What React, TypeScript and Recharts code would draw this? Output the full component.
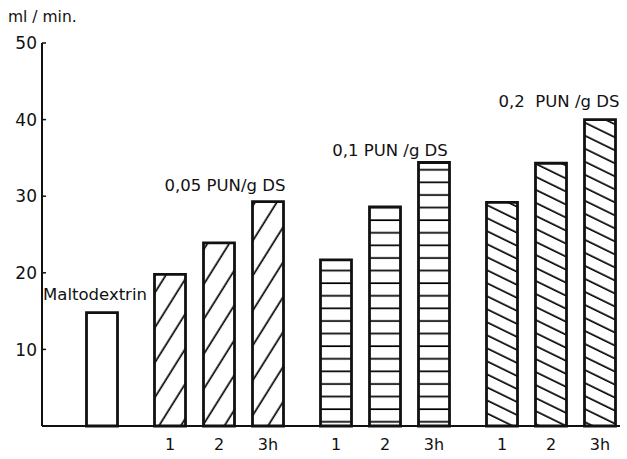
import React from "react";
import {
  BarChart, Bar, XAxis, YAxis, Cell, ReferenceDot, Customized,
} from "recharts";

// values (ml/min)
const groups = ["Maltodextrin", "0,05 PUN/g DS", "0,1 PUN /g DS", "0,2  PUN /g DS"];
const times = ["1", "2", "3h"];
const maltodextrin = 14.8;
const pun005 = [19.8, 23.9, 29.3];
const pun01 = [21.7, 28.6, 34.4];
const pun02 = [29.2, 34.3, 40.0];
const yTicks = [10, 20, 30, 40, 50];

// label anchor heights (in ml/min) for the group captions
const labelLevels = [17.2, 31.4, 36.0, 42.4];

const INK = "#111";
const FONT = "'DejaVu Sans', sans-serif";

// layout along the x axis (px units from y axis)
const MALTO_X = 60;
const FIRST = 128;
const STEP = 49;
const GROUP = 166;
const labelX = [53, 183, 348, 517];

const fills = ["#fff", "url(#hatchUp)", "url(#hatchH)", "url(#hatchDown)"];

const rows = [
  { x: MALTO_X, value: maltodextrin, g: 0, tick: "" },
  ...[pun005, pun01, pun02].flatMap((vals, gi) =>
    vals.map((v, i) => ({ x: FIRST + gi * GROUP + i * STEP, value: v, g: gi + 1, tick: times[i] }))
  ),
];

const tickText: Record<number, string> = {};
rows.forEach((r) => { if (r.tick) tickText[r.x] = r.tick; });

function YTick(props: any) {
  const { x, y, payload } = props;
  return (
    <g>
      <line x1={x + 5} x2={x + 9} y1={y} y2={y} stroke={INK} strokeWidth={1.5} />
      <text x={x} y={y} dy="0.36em" textAnchor="end" fontSize={17} fontFamily={FONT} fill={INK}>
        {payload.value}
      </text>
    </g>
  );
}

function GroupLabel(text: string) {
  return (props: any) => {
    const { viewBox } = props;
    return (
      <text x={viewBox.cx ?? viewBox.x} y={viewBox.cy ?? viewBox.y} dy="0.35em" textAnchor="middle"
        fontSize={16.5} fontFamily={FONT} fill={INK} style={{ whiteSpace: "pre" }}>
        {text}
      </text>
    );
  };
}

export default function App() {
  return (
    <div style={{ position: "absolute", left: 0, top: 0, background: "#fff" }}>
      <BarChart width={627} height={459} data={rows} margin={{ top: 43, right: 7, bottom: 3, left: 0 }}>
        <defs>
          <pattern id="hatchUp" patternUnits="userSpaceOnUse" width={20} height={18.5} patternTransform="rotate(-58)">
            <line x1={0} x2={20} y1={9} y2={9} stroke="#000" strokeWidth={1.7} />
          </pattern>
          <pattern id="hatchH" patternUnits="userSpaceOnUse" width={20} height={12.6}>
            <line x1={0} x2={20} y1={6} y2={6} stroke="#000" strokeWidth={1.7} />
          </pattern>
          <pattern id="hatchDown" patternUnits="userSpaceOnUse" width={20} height={11.7} patternTransform="rotate(26)">
            <line x1={0} x2={20} y1={6} y2={6} stroke="#000" strokeWidth={1.7} />
          </pattern>
        </defs>
        <XAxis type="number" dataKey="x" domain={[0, 578]} ticks={rows.filter((r) => r.tick).map((r) => r.x)}
          tickFormatter={(v) => tickText[v] ?? ""} tickLine={false} tickSize={0} tickMargin={13} height={30}
          axisLine={{ stroke: INK, strokeWidth: 2 }}
          tick={{ fontSize: 16, fontFamily: FONT, fill: INK }} allowDataOverflow />
        <YAxis type="number" domain={[0, 50]} ticks={yTicks} width={42} tickLine={false} tickSize={0}
          tickMargin={5} axisLine={{ stroke: INK, strokeWidth: 2 }} tick={<YTick />} />
        <Bar dataKey="value" barSize={31} stroke={INK} strokeWidth={2.8} isAnimationActive={false}>
          {rows.map((r) => (
            <Cell key={r.x} fill={fills[r.g]} />
          ))}
        </Bar>
        {groups.map((name, i) => (
          <ReferenceDot key={name} x={labelX[i]} y={labelLevels[i]} r={0} stroke="none" fill="none"
            ifOverflow="visible" label={GroupLabel(name)} />
        ))}
        <Customized component={() => (
          <text x={8} y={22} fontSize={15.5} fontFamily={FONT} fill={INK}>ml / min.</text>
        )} />
      </BarChart>
    </div>
  );
}
